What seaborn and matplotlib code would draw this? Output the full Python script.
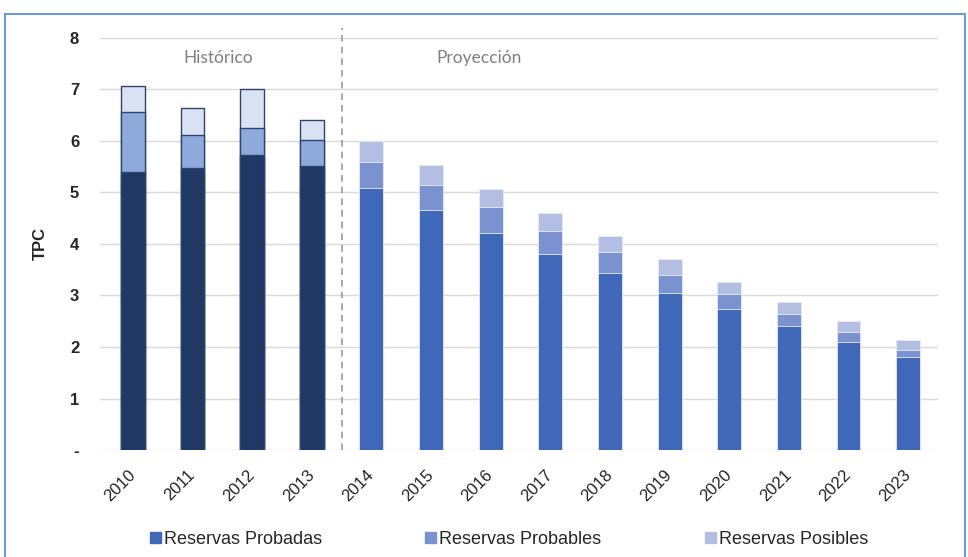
import numpy as np
import pandas as pd
import matplotlib.pyplot as plt
import seaborn as sns
from matplotlib.patches import Patch, Rectangle

# --------------------------------------------------------------------------
# data (TPC)
# --------------------------------------------------------------------------
years = ['2010', '2011', '2012', '2013', '2014', '2015', '2016',
         '2017', '2018', '2019', '2020', '2021', '2022', '2023']
periodo = ['Histórico'] * 4 + ['Proyección'] * 10
probadas = [5.40, 5.48, 5.72, 5.52, 5.09, 4.66, 4.22, 3.81, 3.44, 3.05, 2.73, 2.41, 2.10, 1.80]
probables = [1.17, 0.64, 0.53, 0.50, 0.51, 0.49, 0.49, 0.45, 0.40, 0.35, 0.29, 0.24, 0.20, 0.15]
posibles = [0.50, 0.51, 0.75, 0.39, 0.40, 0.38, 0.35, 0.34, 0.31, 0.30, 0.25, 0.23, 0.20, 0.18]
legend_labels = ['Reservas Probadas', 'Reservas Probables', 'Reservas Posibles']

df = pd.DataFrame({'year': years, 'periodo': periodo,
                   'probadas': probadas, 'probables': probables, 'posibles': posibles})
df['lvl1'] = df['probadas']
df['lvl2'] = df['lvl1'] + df['probables']
df['lvl3'] = df['lvl2'] + df['posibles']

# colours: historic / projection
pal_top = {'Histórico': '#DAE3F3', 'Proyección': '#B3BFE2'}
pal_mid = {'Histórico': '#8EA9DB', 'Proyección': '#7A92D0'}
pal_low = {'Histórico': '#203864', 'Proyección': '#3F69B8'}

# --------------------------------------------------------------------------
# plot
# --------------------------------------------------------------------------
sns.set_style('white')
plt.rcParams['font.family'] = ['Liberation Sans', 'DejaVu Sans']

fig = plt.figure(figsize=(9.68, 5.57), dpi=100)
ax = fig.add_axes([0.1033, 0.192, 0.8657, 0.740])

for col, pal in [('lvl3', pal_top), ('lvl2', pal_mid), ('lvl1', pal_low)]:
    sns.barplot(data=df, x='year', y=col, hue='periodo', palette=pal, saturation=1,
                dodge=False, width=0.4, legend=False, ax=ax, zorder=3)

# outline only on the historic bars
for p in ax.patches:
    if p.get_x() + p.get_width() / 2 < 3.5:
        p.set_edgecolor('#2E4370')
        p.set_linewidth(1.0)
    else:
        p.set_edgecolor('#E6ECF7')
        p.set_linewidth(0.6)

ax.set_xlim(-0.55, 13.5)
ax.set_ylim(0, 8)
ax.set_yticks(range(0, 9))
ax.set_yticklabels(['-'] + [str(i) for i in range(1, 9)], fontsize=12, fontweight='bold',
                   color='#262626')
ax.yaxis.grid(True, color='#D9D9D9', linewidth=1.0, zorder=0)
ax.set_axisbelow(True)
for s in ax.spines.values():
    s.set_visible(False)
ax.tick_params(axis='both', length=0)
ax.tick_params(axis='y', pad=15)
ax.tick_params(axis='x', pad=16)
plt.setp(ax.get_xticklabels(), rotation=45, fontsize=12, color='#222222',
         ha='right', va='center', rotation_mode='anchor')
ax.set_xlabel('')
ax.set_ylabel('TPC', fontsize=12, fontweight='bold', labelpad=16)

# divider between history and projection
ax.plot([3.5, 3.5], [0, 8.2], color='#999999', linestyle=(0, (4, 3)),
        linewidth=1.2, clip_on=False, zorder=4)
ax.text(1.44, 7.61, 'Histórico', ha='center', va='center', fontsize=12.5, color='#7F7F7F',
        family='Lato')
ax.text(5.8, 7.61, 'Proyección', ha='center', va='center', fontsize=12.5, color='#7F7F7F',
        family='Lato')

# legend: three fixed slots like the original
handle_cols = [pal_low['Proyección'], pal_mid['Proyección'], pal_top['Proyección']]
slot_x = [150 / 968, 425 / 968, 705 / 968]
for c, lab, x0 in zip(handle_cols, legend_labels, slot_x):
    leg = fig.legend([Patch(color=c)], [lab], loc='center left',
                     bbox_to_anchor=(x0, 0.032), frameon=False, fontsize=13,
                     handlelength=0.6, handleheight=0.6, handletextpad=0.2,
                     borderpad=0, borderaxespad=0)

# frame around the chart
fig.patches.append(Rectangle((5 / 968, -0.01), 960 / 968, 1 - 14 / 557 + 0.01,
                             transform=fig.transFigure, fill=False,
                             edgecolor='#6A9BD8', linewidth=1.5))

fig.savefig('out.png', dpi=100)
